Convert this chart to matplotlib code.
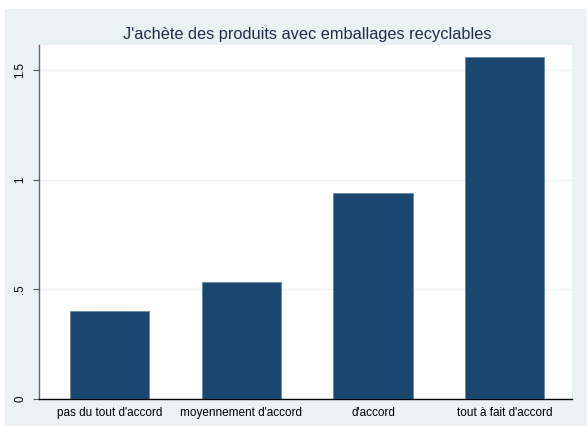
import matplotlib.pyplot as plt
from matplotlib.patches import Rectangle

# mean score per answer category
categories = ["pas du tout d'accord", "moyennement d'accord", "d'accord", "tout à fait d'accord"]
values = [0.40, 0.535, 0.938, 1.56]
yticks = [0, 0.5, 1, 1.5]
ytick_labels = ["0", ".5", "1", "1.5"]

BG = "#eaf2f3"
NAVY = "#1a476f"

W, H = 587, 426
fig = plt.figure(figsize=(W / 100, H / 100), dpi=100)

# light panel behind the plot, with a thin white margin top-left
fig.patches.append(Rectangle((5 / W, 0), 1 - 5 / W, 1 - 9 / H,
                             transform=fig.transFigure, facecolor=BG,
                             edgecolor="none", zorder=-1))

ax = fig.add_axes([39 / W, 1 - 399 / H, (572 - 39) / W, (399 - 45) / H])
ax.set_facecolor("white")

ax.bar(range(len(values)), values, width=0.6, color=NAVY, edgecolor="#5d7f9c",
       linewidth=0.5, zorder=3)

ax.set_xlim(-0.534, 3.51)
ax.set_ylim(0, 1.614)

ax.set_yticks(yticks)
ax.set_yticklabels(ytick_labels, rotation=90, va="center", fontsize=8.3)
ax.set_xticks(range(len(categories)))
ax.set_xticklabels(categories, fontsize=8.5)
ax.tick_params(axis="x", length=0, pad=6)
ax.tick_params(axis="y", length=4, width=0.8, color="#555555", pad=5)

ax.grid(axis="y", color=BG, linewidth=1, zorder=0)
for side in ("top", "right"):
    ax.spines[side].set_visible(False)
ax.spines["left"].set_color("#666666")
ax.spines["left"].set_linewidth(1)
ax.spines["bottom"].set_color("black")
ax.spines["bottom"].set_linewidth(1)

fig.text(307 / W, 1 - 35 / H, "J'achète des produits avec emballages recyclables",
         ha="center", va="center", fontsize=11.8, color="#1e2d4e",
         family="Liberation Sans")
for lbl in ax.get_xticklabels() + ax.get_yticklabels():
    lbl.set_family("Liberation Sans")

fig.savefig("out.png", dpi=100)
